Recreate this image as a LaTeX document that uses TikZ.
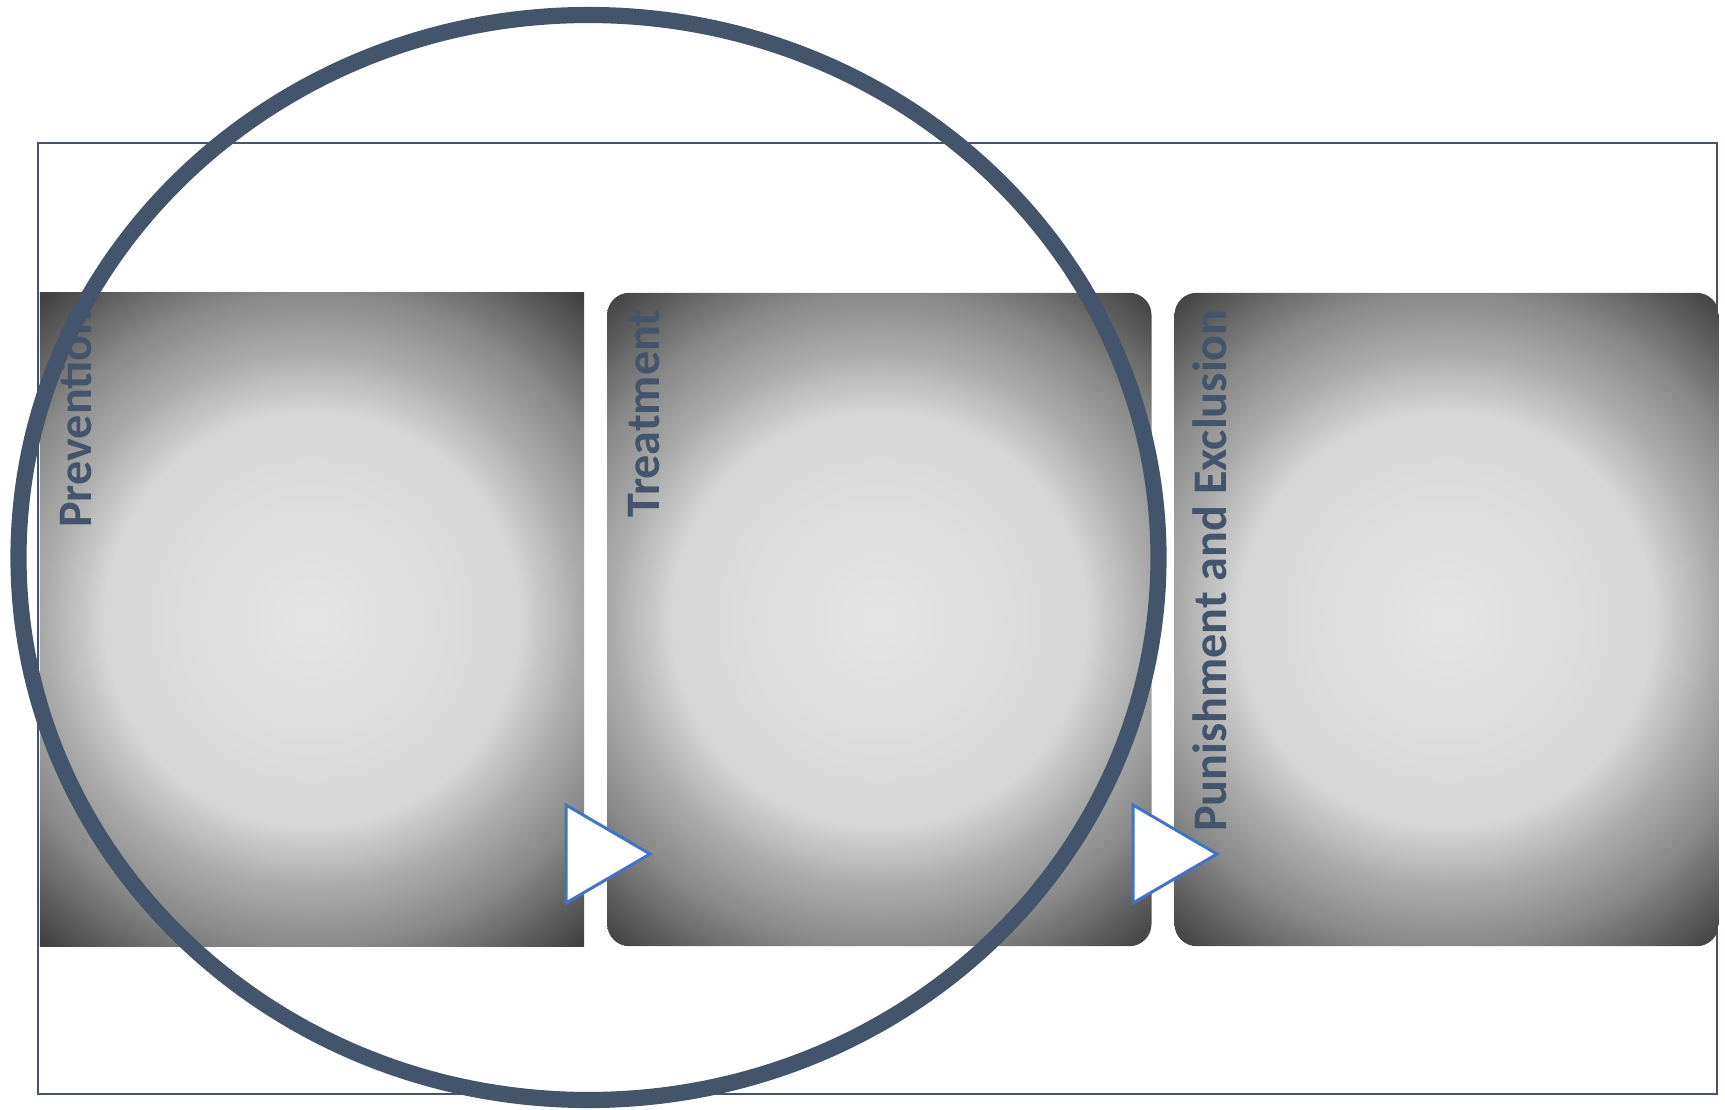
\documentclass[tikz,border=0pt]{standalone}
\usepackage{fontspec}
\setmainfont{Carlito}
\usepackage{tikz}
\usetikzlibrary{positioning}
\definecolor{slatetext}{HTML}{44546A}
\definecolor{flowblue}{HTML}{4472C4}
\pgfdeclareradialshading{stageglow}{\pgfpoint{0bp}{0bp}}{%
    rgb(0bp)=(0.90,0.90,0.90);
    rgb(15.7bp)=(0.84,0.84,0.84);
    rgb(20.6bp)=(0.66,0.66,0.66);
    rgb(24.7bp)=(0.54,0.54,0.54);
    rgb(32bp)=(0.25,0.25,0.25);
    rgb(50bp)=(0.25,0.25,0.25)}
\tikzset{
    stagebox/.style={draw=none, rounded corners=6.3pt, minimum width=5.44cm, minimum height=6.53cm, inner sep=0pt, outer sep=0pt,
        path picture={\shade[shading=stageglow] ([shift={(-330,-330)}]path picture bounding box.center) rectangle ([shift={(330,330)}]path picture bounding box.center);}},
    stagelabel/.style={rotate=90, anchor=base east, inner sep=0pt, text=slatetext, font=\bfseries\fontsize{13.7pt}{16pt}\selectfont},
    frameline/.style={draw=slatetext, line width=0.6pt},
    cycleline/.style={draw=slatetext, line width=4.6pt},
    flowtri/.style={draw=flowblue, fill=white, line width=0.85pt, line join=miter}
}
\begin{document}
\begin{tikzpicture}[x=0.01cm, y=-0.01cm, node distance=0.23cm]
    \useasboundingbox (0,0) rectangle (1725,1110);
    \draw[frameline] (38,143) rectangle (1717,1094);
    % the three stages
    \node[stagebox, sharp corners] (prev) at (312,619.5) {};
    \node[stagebox, right=of prev] (treat) {};
    \node[stagebox, right=of treat] (pun) {};
    \node[stagelabel] (prevtxt) at ([shift={(52,16)}]prev.north west) {Prevention};
    \node[stagelabel] (treattxt) at ([shift={(52,16)}]treat.north west) {Treatment};
    \node[stagelabel] (puntxt) at ([shift={(52,16)}]pun.north west) {Punishment and Exclusion};
    % ring over the first two stages
    \draw[cycleline] (588.5,557.5) ellipse [x radius=570, y radius=542.5];
    % flow arrows
    \draw[flowtri] (566,805) -- (650,854) -- (566,903) -- cycle;
    \draw[flowtri] (1133,805) -- (1217,854) -- (1133,903) -- cycle;
\end{tikzpicture}
\end{document}
